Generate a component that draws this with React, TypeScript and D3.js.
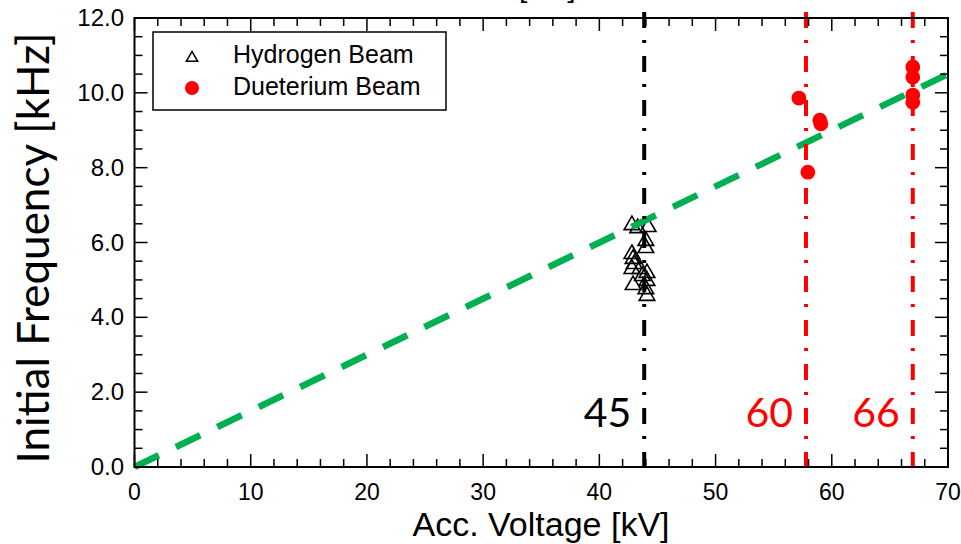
import React from 'react';
import * as d3 from 'd3';

// ---- data ----
const hydrogenVoltage = [42.8, 43.3, 44.2, 44.0, 44.0, 42.8, 42.9, 43.0, 42.8, 43.5, 43.7, 44.1, 44.1, 42.9, 44.0, 44.1];
const hydrogenFreq = [6.49, 6.41, 6.44, 6.07, 5.88, 5.72, 5.59, 5.45, 5.32, 5.32, 5.13, 5.21, 5.0, 4.89, 4.78, 4.6];
const deuteriumVoltage = [57.17, 58.97, 59.06, 57.94, 66.97, 66.97, 66.97, 66.97];
const deuteriumFreq = [9.86, 9.27, 9.17, 7.88, 10.69, 10.42, 9.94, 9.75];
const fitVoltage = [0, 70];
const fitFreq = [0, 10.5];
const markerVoltages = [43.86, 57.78, 66.97];
const markerLabels = ['45', '60', '66'];
const markerColors = ['#000000', '#ff0000', '#ff0000'];
const xTickValues = [0, 10, 20, 30, 40, 50, 60, 70];
const xTickLabels = ['0', '10', '20', '30', '40', '50', '60', '70'];
const yTickValues = [0, 2, 4, 6, 8, 10, 12];
const yTickLabels = ['0.0', '2.0', '4.0', '6.0', '8.0', '10.0', '12.0'];
const legendLabels = ['Hydrogen Beam', 'Dueterium Beam'];
const xTitle = 'Acc. Voltage [kV]';
const yTitle = 'Initial Frequency [kHz]';
const titleRemnant = '[ms]';

const W = 961;
const H = 544;
const L = 134.5, R = 948, T = 18, B = 467;

export default function App() {
  const x = d3.scaleLinear().domain([0, 70]).range([L, R]);
  const y = d3.scaleLinear().domain([0, 12]).range([B, T]);
  const xMinor = d3.range(0, 70.001, 2);
  const yMinor = d3.range(0, 12.001, 0.5);
  const fitLine = d3.line<number>().x((d, i) => x(fitVoltage[i])).y((d, i) => y(fitFreq[i]));
  const tri = d3.symbol().type(d3.symbolTriangle).size(105)();
  const triLegend = d3.symbol().type(d3.symbolTriangle).size(55)();
  const tickFont = 'Liberation Sans, Arial, sans-serif';
  const isMajorX = (v: number) => Math.abs(v % 10) < 1e-6;
  const isMajorY = (v: number) => Math.abs(v % 2) < 1e-6;

  return (
    <svg width={W} height={H} style={{ position: 'absolute', left: 0, top: 0, background: '#fff' }}>
      <rect x={0} y={0} width={W} height={H} fill="#fff" />
      {/* cut-off title remnant */}
      <text x={519} y={-3} fontFamily={tickFont} fontSize={30} fill="#000">{titleRemnant}</text>

      {/* hydrogen triangles */}
      {hydrogenVoltage.map((v, i) => (
        <path key={'h' + i} d={tri} transform={`translate(${x(v)},${y(hydrogenFreq[i]) + 1})`} fill="none" stroke="#000" strokeWidth={1.6} />
      ))}
      {/* deuterium circles */}
      {deuteriumVoltage.map((v, i) => (
        <circle key={'d' + i} cx={x(v)} cy={y(deuteriumFreq[i])} r={7.4} fill="#ff0000" />
      ))}

      {/* fit line */}
      <path d={fitLine(fitVoltage) || ''} fill="none" stroke="#00b050" strokeWidth={6.5} strokeDasharray="27 19" />

      {/* vertical dash-dot lines */}
      {markerVoltages.map((v, i) => (
        <g key={'m' + i}>
          <line x1={x(v)} x2={x(v)} y1={12} y2={B} stroke={markerColors[i]} strokeWidth={4} strokeDasharray="16 12 3 13" />
          <text x={x(v) - 13} y={427} textAnchor="end" fontFamily="Lato, Carlito, sans-serif" fontSize={41} fill={markerColors[i]}>{markerLabels[i]}</text>
        </g>
      ))}

      {/* axes frame */}
      <rect x={L} y={T} width={R - L} height={B - T} fill="none" stroke="#000" strokeWidth={2} />
      {xMinor.map((v) => {
        const len = isMajorX(v) ? 13 : 8;
        return (
          <g key={'xt' + v}>
            <line x1={x(v)} x2={x(v)} y1={B} y2={B - len} stroke="#000" strokeWidth={1.5} />
            <line x1={x(v)} x2={x(v)} y1={T} y2={T + len} stroke="#000" strokeWidth={1.5} />
          </g>
        );
      })}
      {yMinor.map((v) => {
        const len = isMajorY(v) ? 13 : 8;
        return (
          <g key={'yt' + v}>
            <line x1={L} x2={L + len} y1={y(v)} y2={y(v)} stroke="#000" strokeWidth={1.5} />
            <line x1={R} x2={R - len} y1={y(v)} y2={y(v)} stroke="#000" strokeWidth={1.5} />
          </g>
        );
      })}
      {xTickValues.map((v, i) => (
        <text key={'xl' + v} x={x(v)} y={500} textAnchor="middle" fontFamily={tickFont} fontSize={23} fill="#000">{xTickLabels[i]}</text>
      ))}
      {yTickValues.map((v, i) => (
        <text key={'yl' + v} x={124} y={y(v) + 8} textAnchor="end" fontFamily={tickFont} fontSize={24} fill="#000">{yTickLabels[i]}</text>
      ))}

      {/* axis titles */}
      <text x={541} y={536} textAnchor="middle" fontFamily={tickFont} fontSize={34} fill="#000">{xTitle}</text>
      <text transform={`translate(49,248) rotate(-90)`} textAnchor="middle" fontFamily="Lato, Carlito, sans-serif" fontSize={44} fill="#000">{yTitle}</text>

      {/* legend */}
      <rect x={153} y={32} width={293} height={78} fill="#fff" stroke="#000" strokeWidth={1.5} />
      <path d={triLegend} transform="translate(192,58)" fill="none" stroke="#000" strokeWidth={1.5} />
      <circle cx={192} cy={88} r={7} fill="#ff0000" />
      <text x={233} y={63} fontFamily={tickFont} fontSize={25} fill="#000">{legendLabels[0]}</text>
      <text x={233} y={95} fontFamily={tickFont} fontSize={25} fill="#000">{legendLabels[1]}</text>
    </svg>
  );
}
